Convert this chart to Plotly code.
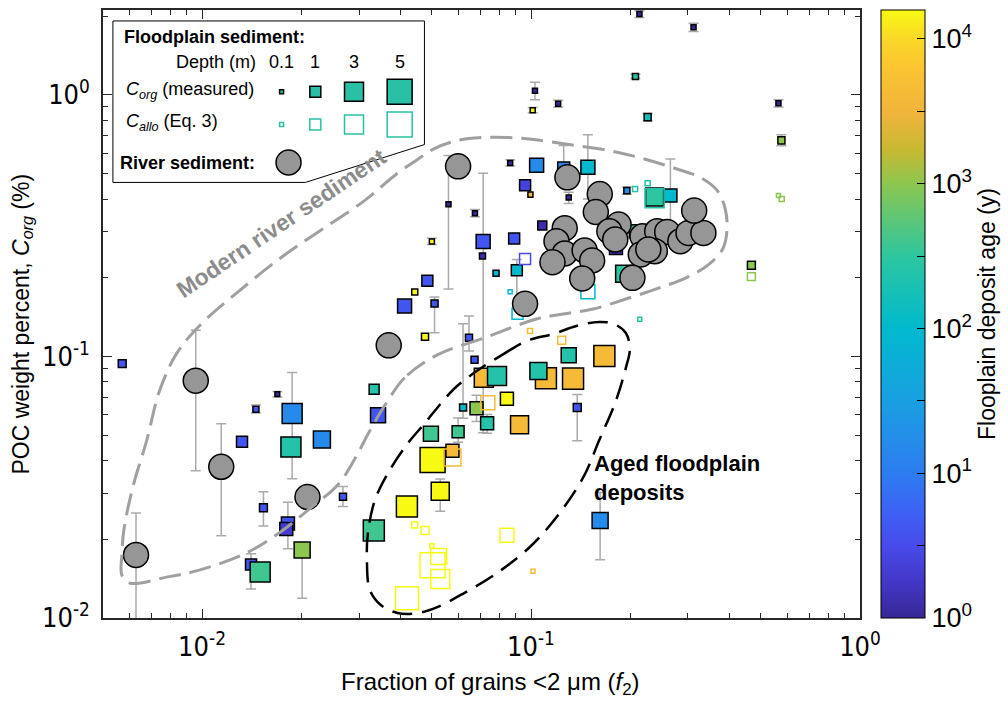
import numpy as np
import plotly.graph_objects as go

# ---------------- data ----------------
# Floodplain sediment, measured C_org (f2 fraction, C_org %, log10 age (y), depth (m))
fp_f2 = [0.00572, 0.01694, 0.01458, 0.01323, 0.01879, 0.01863, 0.02314, 0.01537, 0.01824, 0.01803,
         0.02015, 0.01409, 0.01502, 0.03335, 0.03428, 0.02682, 0.03328, 0.04127, 0.0509, 0.04762,
         0.04841, 0.04432, 0.04996, 0.05612, 0.06754, 0.07153, 0.07119, 0.07828, 0.08643, 0.08887,
         0.09055, 0.09592, 0.09959, 0.1040, 0.1082, 0.1028, 0.1012, 0.1209, 0.1257, 0.1302,
         0.1489, 0.2136, 0.3119, 0.2077, 0.2262, 0.5651, 0.5769, 0.4676, 0.1956, 0.1812,
         0.2082, 0.1919, 0.2375, 0.2653, 0.06478, 0.06735, 0.06215, 0.06829, 0.07187, 0.07882,
         0.08447, 0.07355, 0.09229, 0.1110, 0.1053, 0.1342, 0.1302, 0.1671, 0.1382, 0.04962,
         0.06003, 0.05021, 0.0577, 0.05297, 0.04195, 0.1622]
fp_corg = [0.0939, 0.0718, 0.0629, 0.0472, 0.0605, 0.0451, 0.0481, 0.0264, 0.0230, 0.0219,
           0.0182, 0.0160, 0.0150, 0.0749, 0.0596, 0.0291, 0.0216, 0.1559, 0.1594, 0.1190,
           0.1947, 0.1763, 0.2753, 0.3821, 0.3529, 0.2753, 0.2425, 0.2083, 0.5492, 0.2827,
           0.2139, 0.4515, 0.4159, 0.5382, 0.3168, 1.0376, 0.8749, 0.9256, 0.5256, 0.4052,
           0.5289, 2.041, 1.815, 1.177, 0.8229, 0.9304, 0.6705, 0.2235, 0.4308, 0.2602,
           0.3013, 0.2070, 0.4074, 0.4125, 0.1179, 0.0972, 0.0638, 0.0634, 0.0830, 0.0842,
           0.0690, 0.0556, 0.0548, 0.0825, 0.0881, 0.0823, 0.1011, 0.1004, 0.0638, 0.0507,
           0.0516, 0.0402, 0.0436, 0.0305, 0.0267, 0.0236]
fp_age_log = [0.6, 0.0, 0.6, 0.6, 1.2, 2.4, 1.2, 0.6, 0.6, 0.3,
              3.0, 0.6, 2.6, 2.4, 0.6, 0.6, 2.6, 0.6, 0.6, 4.2,
              0.6, 4.2, 4.2, 0.0, 0.0, 0.6, 0.1, 2.0, 0.0, 0.6,
              2.0, 0.4, 3.6, 1.2, 0.1, 0.0, 4.2, 0.0, 1.2, 0.0,
              2.0, 0.0, 0.0, 2.4, 2.2, 0.0, 3.0, 3.0, 1.2, 0.1,
              2.4, 2.5, 2.5, 2.0, 0.6, 0.6, 2.0, 3.0, 3.6, 2.4,
              4.2, 2.4, 3.6, 3.6, 2.4, 3.6, 2.4, 3.6, 0.6, 2.6,
              2.6, 4.2, 3.6, 4.2, 4.2, 1.2]
fp_depth = [0.6, 0.2, 0.36, 1.0, 3.33, 3.33, 2.5, 0.6, 1.5, 1.5,
            2.25, 1.0, 3.33, 0.87, 2.0, 0.49, 3.67, 1.75, 0.49, 0.49,
            1.0, 0.36, 0.23, 0.23, 0.23, 1.75, 0.36, 0.36, 0.23, 1.0,
            1.0, 1.0, 0.23, 1.75, 0.74, 0.23, 0.23, 0.23, 1.25, 0.23,
            1.75, 0.23, 0.23, 0.36, 0.49, 0.23, 0.49, 0.61, 0.36, 1.5,
            1.5, 2.5, 2.75, 1.5, 0.49, 0.49, 0.49, 1.5, 3.0, 3.0,
            1.5, 1.5, 2.75, 3.67, 2.5, 3.67, 2.0, 3.67, 0.61, 2.0,
            1.25, 5.0, 1.5, 2.75, 3.67, 2.25]
fp_err_hi = [None, 0.0735, 0.0653, None, 0.0868, None, None, 0.0304, 0.0277, None,
             0.0182, 0.0176, None, None, None, 0.0318, None, None, 0.1687, None,
             None, None, 0.2830, 0.5876, 0.365, 0.5017, None, None, 0.565, None,
             0.235, None, None, None, None, 1.119, 0.895, 0.955, 0.6416, 0.425,
             0.7048, 2.10, 1.88, 1.20, 0.85, 0.96, 0.705, None, 0.445, None,
             None, None, None, 0.5697, 0.1428, None, 0.1334, 0.0711, None, None,
             None, 0.060, None, None, None, None, None, None, 0.0715, None,
             0.0582, None, None, 0.034, None, 0.0302]
fp_err_lo = [None, 0.0700, 0.0608, None, 0.0341, None, None, 0.0225, 0.0184, None,
             0.0119, 0.0129, None, None, None, 0.0267, None, None, 0.1233, None,
             None, None, 0.2680, 0.1810, 0.342, 0.0511, None, None, 0.535, None,
             0.153, None, None, None, None, 0.9587, 0.855, 0.897, 0.45, 0.385,
             0.40, 1.98, 1.75, 1.155, 0.795, 0.90, 0.64, None, 0.417, None,
             None, None, None, 0.30, 0.105, None, 0.058, 0.0564, None, None,
             None, 0.0509, None, None, None, None, None, None, 0.0476, None,
             0.047, None, None, 0.0256, None, 0.0167]

# Floodplain sediment, C_allo (Eq. 3)
allo_f2 = [0.0959, 0.0864, 0.0910, 0.1489, 0.2072, 0.2262, 0.2375, 0.2140, 0.5651, 0.5781,
           0.4676, 0.0993, 0.1240, 0.0739, 0.0577, 0.0443, 0.0476, 0.0845, 0.0500, 0.0502,
           0.0524, 0.0530, 0.0420, 0.1014]
allo_c = [0.2362, 0.1768, 0.1457, 0.1768, 0.4369, 0.4596, 0.4027, 0.1387, 0.4125, 0.4002,
          0.2020, 0.1252, 0.1153, 0.0666, 0.0411, 0.0227, 0.0216, 0.0207, 0.0189, 0.0159,
          0.0172, 0.0141, 0.0119, 0.0151]
allo_age_log = [0.5, 2.0, 2.0, 2.0, 2.4, 2.4, 2.4, 2.4, 3.0, 3.0,
                3.0, 3.6, 3.6, 3.6, 3.6, 4.2, 4.2, 4.2, 4.2, 4.2,
                4.2, 4.2, 4.2, 3.6]
allo_depth = [1.0, 0.1, 1.0, 1.75, 0.23, 0.23, 3.0, 0.1, 0.1, 0.23,
              0.61, 0.23, 0.61, 1.75, 2.5, 0.36, 0.61, 1.75, 0.1, 5.0,
              2.25, 3.0, 4.33, 0.1]

# River sediment
riv_f2 = [0.00630, 0.00957, 0.01144, 0.02092, 0.03694, 0.06003, 0.09592, 0.1290, 0.1618, 0.1574,
          0.1266, 0.1195, 0.1266, 0.1162, 0.1455, 0.1534, 0.1431, 0.1846, 0.1730, 0.1803,
          0.2182, 0.2419, 0.2594, 0.2844, 0.3012, 0.3342, 0.2379, 0.2156, 0.2273, 0.2034,
          0.3133]
riv_corg = [0.01742, 0.0808, 0.03787, 0.02902, 0.1103, 0.5335, 0.1590, 0.4843, 0.4181, 0.3569,
            0.3094, 0.2760, 0.2477, 0.2294, 0.2543, 0.2329, 0.1988, 0.3196, 0.3013, 0.2802,
            0.2884, 0.3013, 0.2995, 0.2760, 0.2969, 0.2969, 0.2528, 0.2455, 0.2566, 0.1999,
            0.3614]
riv_err_hi = [0.02521, 0.1259, 0.0553] + [None] * 28
riv_err_lo = [0.0060, 0.03656, 0.02065] + [None] * 28

# tick labels
x_tickvals = [0.01, 0.1, 1]
x_ticktext = ["10<sup>-2</sup>", "10<sup>-1</sup>", "10<sup>0</sup>"]
y_tickvals = [0.01, 0.1, 1]
y_ticktext = ["10<sup>-2</sup>", "10<sup>-1</sup>", "10<sup>0</sup>"]
cb_tickvals = [0, 0.5, 1, 1.5, 2, 2.5, 3, 3.5, 4]
cb_ticktext = ["10<sup>0</sup>", " ", "10<sup>1</sup>", " ", "10<sup>2</sup>", " ",
               "10<sup>3</sup>", " ", "10<sup>4</sup>"]
legend_depths = [0.1, 1, 3, 5]

# ---------------- style ----------------
NARROW = "Liberation Sans Narrow, Arial Narrow, DejaVu Sans Condensed, sans-serif"
REG = "Liberation Sans, Arial, sans-serif"
ERR = "rgb(170,170,170)"
GRAY_LINE = "rgb(160,160,160)"
GRAY_TEXT = "rgb(140,140,140)"
CIRCLE = "rgb(150,150,150)"
LEG_TEAL = "rgb(42,192,165)"

PARULA = [
    [0.0, "rgb(55,40,150)"],
    [0.06, "rgb(68,55,200)"],
    [0.12, "rgb(72,75,235)"],
    [0.18, "rgb(60,100,245)"],
    [0.24, "rgb(45,125,240)"],
    [0.36, "rgb(25,160,225)"],
    [0.476, "rgb(0,185,205)"],
    [0.595, "rgb(45,198,160)"],
    [0.714, "rgb(140,198,80)"],
    [0.77, "rgb(200,185,50)"],
    [0.83, "rgb(240,180,60)"],
    [0.90, "rgb(250,195,50)"],
    [0.952, "rgb(250,215,40)"],
    [1.0, "rgb(248,250,20)"],
]
CMIN, CMAX = 0.0, 4.2


def depth_to_size(d):
    return np.interp(d, [0.1, 1, 3, 5], [5, 12, 20, 26]) - 1.0


fig = go.Figure()

# error bars (drawn underneath the markers)
ex, ey, ep, em = [], [], [], []
for xs, ys, his, los in [(fp_f2, fp_corg, fp_err_hi, fp_err_lo),
                         (riv_f2, riv_corg, riv_err_hi, riv_err_lo)]:
    for x, y, hi, lo in zip(xs, ys, his, los):
        if hi is not None:
            ex.append(x); ey.append(y); ep.append(hi - y); em.append(y - lo)
fig.add_trace(go.Scatter(
    x=ex, y=ey, mode="markers", marker=dict(size=1, color="rgba(0,0,0,0)"),
    error_y=dict(type="data", symmetric=False, array=ep, arrayminus=em,
                 color=ERR, thickness=1.5, width=5),
    hoverinfo="skip", showlegend=False))

# measured floodplain C_org
fig.add_trace(go.Scatter(
    x=fp_f2, y=fp_corg, mode="markers", showlegend=False,
    marker=dict(symbol="square", size=depth_to_size(np.array(fp_depth)), opacity=1,
                color=fp_age_log, colorscale=PARULA, cmin=CMIN, cmax=CMAX,
                line=dict(color="black", width=1.5), showscale=True,
                colorbar=dict(
                    x=1.0275, xanchor="left", xpad=0, ypad=0, y=0, yanchor="bottom",
                    len=1, lenmode="fraction", thickness=44, thicknessmode="pixels",
                    outlinecolor="black", outlinewidth=1,
                    tickmode="array", tickvals=cb_tickvals, ticktext=cb_ticktext,
                    ticks="inside", ticklen=8, tickwidth=1, tickcolor="black",
                    tickfont=dict(family=REG, size=27, color="black"),
                    title=dict(text="Flooplain deposit age (y)", side="right",
                               font=dict(family=REG, size=23, color="black"))))))

# C_allo open squares
fig.add_trace(go.Scatter(
    x=allo_f2, y=allo_c, mode="markers", showlegend=False,
    marker=dict(symbol="square-open", size=depth_to_size(np.array(allo_depth)), opacity=1,
                color=allo_age_log, colorscale=PARULA, cmin=CMIN, cmax=CMAX,
                line=dict(width=1.5))))

# river sediment circles
fig.add_trace(go.Scatter(
    x=riv_f2, y=riv_corg, mode="markers", showlegend=False,
    marker=dict(symbol="circle", size=25, color=CIRCLE, opacity=1,
                line=dict(color="black", width=1.5))))

# ---------------- decorations on a pixel overlay ----------------
gray_outline = [(440, 354), (407, 377), (390, 400), (372, 430), (357, 458), (340, 484), (313, 507),
                (280, 533), (247, 553), (200, 570), (167, 577), (130, 583), (122, 575), (122, 555),
                (124, 530), (133, 487), (147, 440), (160, 390), (177, 353), (200, 325), (240, 290),
                (287, 253), (330, 224), (367, 199), (397, 174), (420, 158), (437, 147), (460, 139),
                (485, 136), (512, 136), (537, 138), (573, 143), (613, 149), (647, 157), (680, 167),
                (705, 176), (722, 189), (730, 207), (732, 227), (728, 247), (714, 263), (690, 277),
                (663, 287), (633, 297), (597, 308), (567, 313), (540, 318), (490, 336), (440, 354)]
black_outline = [(480, 370), (507, 353), (530, 340), (557, 333), (580, 325), (603, 321), (618, 323),
                 (630, 332), (634, 348), (630, 367), (620, 400), (603, 440), (587, 477), (560, 517),
                 (533, 547), (500, 573), (467, 593), (440, 607), (420, 613), (400, 613), (383, 605),
                 (372, 590), (369, 560), (370, 533), (377, 500), (390, 473), (410, 443), (427, 423),
                 (440, 407), (457, 388), (480, 370)]

fig.add_trace(go.Scatter(
    x=[p[0] for p in gray_outline], y=[p[1] for p in gray_outline], xaxis="x2", yaxis="y2",
    mode="lines", line=dict(color=GRAY_LINE, width=3, dash="22px,9px", shape="spline", smoothing=1),
    hoverinfo="skip", showlegend=False))
fig.add_trace(go.Scatter(
    x=[p[0] for p in black_outline], y=[p[1] for p in black_outline], xaxis="x2", yaxis="y2",
    mode="lines", line=dict(color="black", width=2.5, dash="20px,10px", shape="spline", smoothing=1),
    hoverinfo="skip", showlegend=False))

# legend markers
leg_x = [283, 317, 356, 402]
leg_sizes = depth_to_size(np.array(legend_depths))
fig.add_trace(go.Scatter(
    x=leg_x, y=[90] * 4, xaxis="x2", yaxis="y2", mode="markers", showlegend=False,
    marker=dict(symbol="square", size=leg_sizes, color=LEG_TEAL, opacity=1,
                line=dict(color="black", width=1.5)), hoverinfo="skip"))
fig.add_trace(go.Scatter(
    x=leg_x, y=[123] * 4, xaxis="x2", yaxis="y2", mode="markers", showlegend=False,
    marker=dict(symbol="square-open", size=leg_sizes, color=LEG_TEAL, opacity=1,
                line=dict(width=1.5)), hoverinfo="skip"))
fig.add_trace(go.Scatter(
    x=[290], y=[161], xaxis="x2", yaxis="y2", mode="markers", showlegend=False,
    marker=dict(symbol="circle", size=25, color=CIRCLE, opacity=1,
                line=dict(color="black", width=1.5)),
    hoverinfo="skip"))

shapes = [dict(type="path", xref="x2", yref="y2",
               path="M 113,19 L 427,19 L 427,143 L 307,181 L 113,181 Z",
               line=dict(color="black", width=1), fillcolor="white", layer="below")]


def ann(text, x, y, size=18, bold=False, xanchor="left", color="black", family=REG, angle=0):
    return dict(text=("<b>%s</b>" % text) if bold else text, x=x, y=y, xref="x2", yref="y2",
                showarrow=False, xanchor=xanchor, yanchor="middle", textangle=angle,
                font=dict(family=family, size=size, color=color), align="left")


annotations = [
    ann("Floodplain sediment:", 122, 35, bold=True),
    ann("Depth (m)", 259, 60, xanchor="right"),
    ann("0.1", 283, 60, xanchor="center"),
    ann("1", 317, 60, xanchor="center"),
    ann("3", 356, 60, xanchor="center"),
    ann("5", 402, 60, xanchor="center"),
    ann("<i>C</i><sub><i>org</i></sub> (measured)", 124, 89),
    ann("<i>C</i><sub><i>allo</i></sub> (Eq. 3)", 124, 121),
    ann("River sediment:", 118, 161, bold=True),
    ann("Modern river sediment", 283, 222, size=23, bold=True, xanchor="center",
        color=GRAY_TEXT, angle=-34),
    ann("Aged floodplain<br>deposits", 596, 478, size=22, bold=True),
    dict(text="Fraction of grains &lt;2 μm (<i>f</i><sub>2</sub>)", x=0.5124, y=-0.108,
         xref="paper", yref="paper", showarrow=False, xanchor="center", yanchor="middle",
         font=dict(family=REG, size=24, color="black")),
    dict(text="POC weight percent, <i>C</i><sub><i>org</i></sub> (%)", x=-0.1062, y=0.4836,
         xref="paper", yref="paper", showarrow=False, xanchor="center", yanchor="middle",
         textangle=-90, font=dict(family=REG, size=23, color="black")),
]

x_minor = [0.006, 0.007, 0.008, 0.009] + [k / 100 for k in range(2, 10)] + [k / 10 for k in range(2, 10)]
y_minor = [k / 100 for k in range(2, 10)] + [k / 10 for k in range(2, 10)] + [2]

axis_common = dict(type="log", showgrid=False, zeroline=False, showline=True,
                   linecolor="rgb(40,40,40)", linewidth=1.5, mirror="allticks",
                   ticks="inside", ticklen=9, tickwidth=1, tickcolor="rgb(40,40,40)",
                   tickmode="array", tickfont=dict(family=NARROW, size=27, color="black"))

fig.update_layout(
    width=1008, height=702, margin=dict(l=103, r=142, t=8, b=84, pad=0),
    paper_bgcolor="white", plot_bgcolor="white", showlegend=False,
    xaxis=dict(axis_common, range=[np.log10(0.005), 0], tickvals=x_tickvals, ticktext=x_ticktext,
               ticklabelstandoff=4,
               minor=dict(ticks="inside", ticklen=5, tickcolor="rgb(40,40,40)", tickmode="array",
                          tickvals=x_minor, showgrid=False)),
    yaxis=dict(axis_common, range=[-2, 0.325], tickvals=y_tickvals, ticktext=y_ticktext,
               ticklabelstandoff=6,
               minor=dict(ticks="inside", ticklen=5, tickcolor="rgb(40,40,40)", tickmode="array",
                          tickvals=y_minor, showgrid=False)),
    xaxis2=dict(overlaying="x", anchor="y2", range=[103, 866], visible=False, fixedrange=True),
    yaxis2=dict(overlaying="y", anchor="x2", range=[618, 8], visible=False, fixedrange=True),
    shapes=shapes, annotations=annotations,
)

fig.write_html("out.html")
